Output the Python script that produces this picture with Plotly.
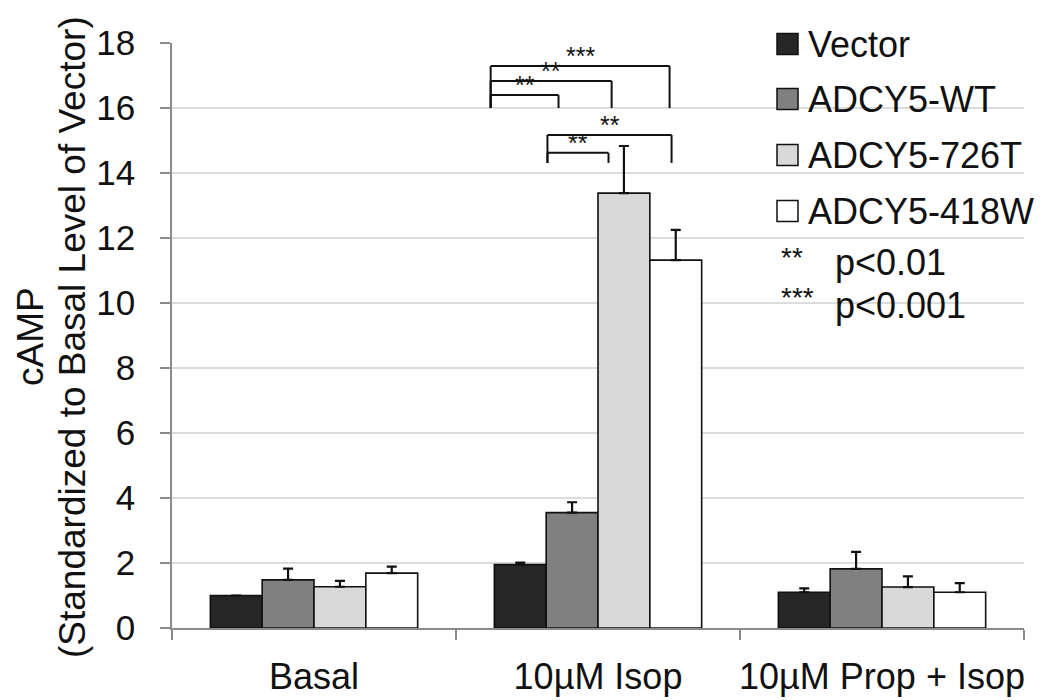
import plotly.graph_objects as go

# ---------------- data ----------------
categories = ["Basal", "10\u00b5M Isop", "10\u00b5M Prop + Isop"]
series_names = ["Vector", "ADCY5-WT", "ADCY5-726T", "ADCY5-418W"]
vector_vals = [1.0, 1.95, 1.1]
vector_err = [0.0, 0.06, 0.12]
wt_vals = [1.48, 3.55, 1.82]
wt_err = [0.35, 0.32, 0.52]
t726_vals = [1.27, 13.38, 1.26]
t726_err = [0.18, 1.45, 0.33]
w418_vals = [1.69, 11.32, 1.1]
w418_err = [0.2, 0.93, 0.28]
y_ticks = [0, 2, 4, 6, 8, 10, 12, 14, 16, 18]
sig_labels = ["***", "**", "**", "**", "**"]
sig_legend = [("**", "p<0.01"), ("***", "p<0.001")]
y_title_lines = ["cAMP", "(Standardized to Basal Level of Vector)"]

values = [vector_vals, wt_vals, t726_vals, w418_vals]
errors = [vector_err, wt_err, t726_err, w418_err]
colors = ["#262626", "#808080", "#d9d9d9", "#ffffff"]

FONT = "Liberation Sans, Arial, sans-serif"

# page offset (body margin) and plot geometry in figure pixels
OFF = 8
W, H = 1042, 692
L, R, T = 164, 26, 35
PW, PH = 852, 585
B = H - T - PH


def px_x(px):
    """target-image x pixel -> paper coordinate"""
    return (px - OFF - L) / PW


def px_y(py):
    """target-image y pixel -> paper coordinate"""
    return (T + PH - (py - OFF)) / PH


fig = go.Figure()
for name, vals, errs, col in zip(series_names, values, errors, colors):
    fig.add_trace(go.Bar(
        name=name, x=categories, y=vals,
        marker=dict(color=col, line=dict(color="#111111", width=1.6)),
        error_y=dict(type="data", symmetric=False, array=errs,
                     arrayminus=[0] * len(errs), color="#111111",
                     thickness=2.2, width=5),
        showlegend=False,
    ))

# significance brackets (x in category units, y in data units)
brackets = [
    (0.622, 1.252, 17.29, 16.0),
    (0.622, 1.048, 16.83, 16.0),
    (0.622, 0.861, 16.40, 16.0),
    (0.822, 1.259, 15.17, 14.31),
    (0.822, 1.037, 14.62, 14.31),
]
shapes = []
annotations = []
for (x0, x1, yt, yb), lab in zip(brackets, sig_labels):
    ln = dict(color="#111111", width=2)
    shapes.append(dict(type="line", xref="x", yref="y", x0=x0, x1=x0, y0=yb, y1=yt, line=ln))
    shapes.append(dict(type="line", xref="x", yref="y", x0=x0, x1=x1, y0=yt, y1=yt, line=ln))
    shapes.append(dict(type="line", xref="x", yref="y", x0=x1, x1=x1, y0=yt, y1=yb, line=ln))
    annotations.append(dict(x=(x0 + x1) / 2, y=yt, xref="x", yref="y", text=lab,
                            showarrow=False, yanchor="bottom", yshift=-6,
                            font=dict(family=FONT, size=25, color="#111111")))

# manual legend
legend_bg = dict(type="rect", xref="paper", yref="paper",
                 x0=px_x(766), x1=px_x(1048), y0=px_y(330), y1=px_y(22),
                 fillcolor="white", line=dict(width=0), layer="below")
shapes.insert(0, legend_bg)
leg_y = [44, 99, 155, 211]
for name, col, cy in zip(series_names, colors, leg_y):
    shapes.append(dict(type="rect", xref="paper", yref="paper",
                       x0=px_x(777), x1=px_x(798), y0=px_y(cy + 10.5), y1=px_y(cy - 10.5),
                       fillcolor=col, line=dict(color="#111111", width=1.5)))
    annotations.append(dict(x=px_x(806), y=px_y(cy), xref="paper", yref="paper",
                            text=name, showarrow=False, xanchor="left", yanchor="middle",
                            font=dict(family=FONT, size=36, color="#111111")))
sig_y = [(257, 262), (297, 305)]
for (stars, ptxt), (sy, py) in zip(sig_legend, sig_y):
    annotations.append(dict(x=px_x(779), y=px_y(sy), xref="paper", yref="paper",
                            text=stars, showarrow=False, xanchor="left", yanchor="middle",
                            font=dict(family=FONT, size=28, color="#111111")))
    annotations.append(dict(x=px_x(833), y=px_y(py), xref="paper", yref="paper",
                            text=ptxt, showarrow=False, xanchor="left", yanchor="middle",
                            font=dict(family=FONT, size=36, color="#111111")))

# y-axis title (two lines, placed separately to match line spacing)
for txt, cx in zip(y_title_lines, [30, 72]):
    annotations.append(dict(x=px_x(cx), y=px_y(337), xref="paper", yref="paper",
                            text=txt, showarrow=False, textangle=-90,
                            xanchor="center", yanchor="middle",
                            font=dict(family=FONT, size=37, color="#111111")))

fig.update_layout(
    width=W, height=H,
    margin=dict(l=L, r=R, t=T, b=B, pad=0, autoexpand=False),
    paper_bgcolor="white", plot_bgcolor="white",
    barmode="group", bargap=0.27, bargroupgap=0,
    font=dict(family=FONT, size=36, color="#111111"),
    shapes=shapes, annotations=annotations,
    showlegend=False,
)
fig.update_xaxes(
    showline=True, linecolor="#8c8c8c", linewidth=1.5,
    ticks="outside", tickson="boundaries", ticklen=10, tickcolor="#8c8c8c", tickwidth=1.5,
    showgrid=False, tickfont=dict(size=36), tickangle=0, automargin=False,
    ticklabelstandoff=16,
)
fig.update_yaxes(
    range=[0, 18], tickvals=y_ticks,
    showline=True, linecolor="#8c8c8c", linewidth=1.5,
    ticks="outside", ticklen=10, tickcolor="#8c8c8c", tickwidth=1.5,
    showgrid=True, gridcolor="#dcdcdc", gridwidth=1.5,
    zeroline=False, tickfont=dict(size=35), ticklabelstandoff=18,
    automargin=False,
)

fig.write_html("out.html")
